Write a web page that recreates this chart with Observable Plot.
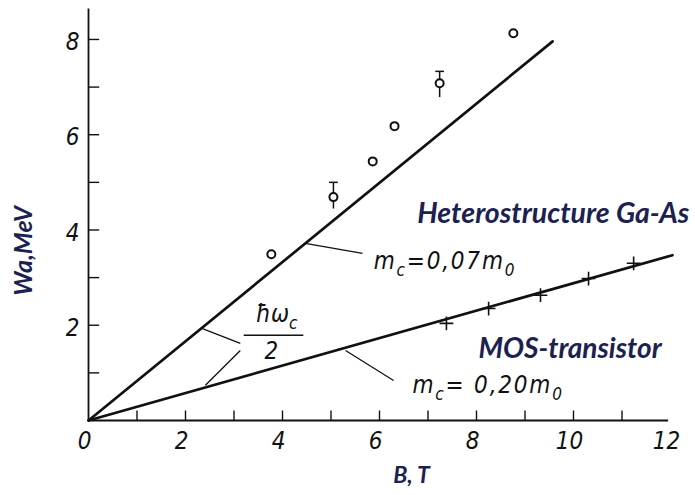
<!DOCTYPE html>
<html><head><meta charset="utf-8">
<script src="https://cdn.jsdelivr.net/npm/d3@7"></script>
<script src="https://cdn.jsdelivr.net/npm/@observablehq/plot@0.6"></script>
<style>
body{margin:0;background:#fff;}
#chart svg{background:#fff;}
.hand{font-stretch:condensed;}
.math{font-stretch:condensed;letter-spacing:1.8px;}
</style>
</head><body><div id="chart"></div>
<script>
// ---- data ----
const xMinorTicks = [1,2,3,4,5,6,7,8,9,10,11];
const xTickLabels = [0,2,4,6,8,10,12];
const yMinorTicks = [1,2,3,4,5,6,7,8];
const yTickLabels = [2,4,6,8];

// fitted lines  ħω_c/2  (B in T, W in meV)
const heteroFitB = [0, 9.57];
const heteroFitW = [0, 7.96];
const mosFitB = [0, 12.04];
const mosFitW = [0, 3.47];

// measured points, heterostructure Ga-As (circles)
const heteroB = [3.77, 5.05, 5.86, 6.31, 7.24, 8.76];
const heteroW = [3.49, 4.69, 5.44, 6.18, 7.08, 8.13];
// error bars
const errB  = [5.05, 7.24];
const errLo = [4.45, 6.79];
const errHi = [5.00, 7.33];

// measured points, MOS-transistor (+)
const mosB = [7.38, 8.25, 9.32, 10.31, 11.24];
const mosW = [2.04, 2.35, 2.63, 2.98, 3.30];

// annotation leaders (data units)
const leaderX1 = [4.47, 5.30, 2.35, 3.13];
const leaderY1 = [3.72, 1.47, 1.93, 1.47];
const leaderX2 = [5.65, 6.29, 3.13, 2.41];
const leaderY2 = [3.51, 0.84, 1.62, 0.74];
const fracBarB = [3.20, 4.43];
const fracBarW = 1.79;

const labelColor = "#1b2150";
const ink = "#111";
const handFont = "'DejaVu Sans Condensed', 'DejaVu Sans', sans-serif";
const titleFont = "Lato, 'Open Sans', sans-serif";

const toPts = (xs, ys) => xs.map((x, i) => ({x, y: ys[i]}));
const heteroFit = toPts(heteroFitB, heteroFitW);
const mosFit = toPts(mosFitB, mosFitW);
const heteroPts = toPts(heteroB, heteroW);
const mosPts = toPts(mosB, mosW);
const errs = errB.map((b, i) => ({x: b, lo: errLo[i], hi: errHi[i]}));
const leaders = leaderX1.map((x1, i) => ({x1, y1: leaderY1[i], x2: leaderX2[i], y2: leaderY2[i]}));

const chart = Plot.plot({
  width: 695, height: 495,
  marginLeft: 88, marginRight: 25, marginTop: 8, marginBottom: 75,
  x: {type: "linear", domain: [0, 12], axis: null},
  y: {type: "linear", domain: [0, 8.65], axis: null},
  style: {background: "#fff", overflow: "visible"},
  marks: [
    // axes
    Plot.link([0], {x1: () => 0, x2: () => 11.95, y1: () => 0, y2: () => 0, stroke: ink, strokeWidth: 1.8}),
    Plot.link([0], {x1: () => 0, x2: () => 0, y1: () => 0, y2: () => 8.65, stroke: ink, strokeWidth: 1.8}),
    Plot.link(xMinorTicks, {x1: d => d, x2: d => d, y1: () => 0, y2: () => 0.21, stroke: ink, strokeWidth: 1.4}),
    Plot.link(yMinorTicks, {y1: d => d, y2: d => d, x1: () => 0, x2: () => 0.22, stroke: ink, strokeWidth: 1.4}),
    Plot.text(xTickLabels, {x: d => d, y: 0, text: d => String(d), dy: 21, dx: -4,
      fontFamily: handFont, fontStyle: "italic", fontSize: 24, fill: ink, className: "hand"}),
    Plot.text(yTickLabels, {x: 0, y: d => d, text: d => String(d), dx: -9, dy: 3, textAnchor: "end",
      fontFamily: handFont, fontStyle: "italic", fontSize: 24, fill: ink, className: "hand"}),
    // axis titles
    Plot.text(["B, T"], {x: 6.66, y: 0, dy: 55, text: d => d, fontFamily: titleFont,
      fontWeight: "bold", fontStyle: "italic", fontSize: 23, fill: labelColor}),
    Plot.text(["Wa,MeV"], {x: -1.32, y: 3.56, rotate: -90, text: d => d, fontFamily: titleFont,
      fontWeight: "bold", fontStyle: "italic", fontSize: 25, fill: labelColor}),
    // fitted lines
    Plot.line(heteroFit, {x: "x", y: "y", stroke: ink, strokeWidth: 2.7}),
    Plot.line(mosFit, {x: "x", y: "y", stroke: ink, strokeWidth: 2.7}),
    // leaders and fraction
    Plot.link(leaders, {x1: "x1", y1: "y1", x2: "x2", y2: "y2", stroke: ink, strokeWidth: 1.3}),
    Plot.link([0], {x1: () => fracBarB[0], x2: () => fracBarB[1], y1: () => fracBarW, y2: () => fracBarW, stroke: ink, strokeWidth: 1.3}),
    Plot.text(["ħω_c"], {x: 3.88, y: 2.06, text: d => d, lineAnchor: "bottom",
      fontFamily: handFont, fontStyle: "italic", fontSize: 24, fill: ink, className: "hand"}),
    Plot.text(["2"], {x: 3.77, y: 1.45, text: d => d,
      fontFamily: handFont, fontStyle: "italic", fontSize: 24, fill: ink, className: "hand"}),
    // error bars
    Plot.link(errs, {x1: "x", x2: "x", y1: "lo", y2: "hi", stroke: ink, strokeWidth: 1.5}),
    Plot.link(errs, {x1: d => d.x - 0.09, x2: d => d.x + 0.09, y1: "hi", y2: "hi", stroke: ink, strokeWidth: 1.5}),
    // data points
    Plot.dot(heteroPts, {x: "x", y: "y", r: 4, stroke: ink, strokeWidth: 2, fill: "#fff"}),
    Plot.dot(mosPts, {x: "x", y: "y", symbol: "plus", r: 4.5, stroke: ink, strokeWidth: 1.6}),
    // labels
    Plot.text(["m_c=0,07m_0"], {x: 5.88, y: 3.19, text: d => d, textAnchor: "start", lineAnchor: "bottom",
      fontFamily: handFont, fontStyle: "italic", fontSize: 24, fill: ink, className: "math"}),
    Plot.text(["m_c= 0,20m_0"], {x: 6.68, y: 0.57, text: d => d, textAnchor: "start", lineAnchor: "bottom",
      fontFamily: handFont, fontStyle: "italic", fontSize: 24, fill: ink, className: "math"}),
    Plot.text(["Heterostructure Ga-As"], {x: 6.78, y: 4.14, text: d => d, textAnchor: "start", lineAnchor: "bottom",
      fontFamily: titleFont, fontWeight: "bold", fontStyle: "italic", fontSize: 28.5, fill: labelColor}),
    Plot.text(["MOS-transistor"], {x: 8.04, y: 1.32, text: d => d, textAnchor: "start", lineAnchor: "bottom",
      fontFamily: titleFont, fontWeight: "bold", fontStyle: "italic", fontSize: 28, fill: labelColor})
  ]
});

// subscripts: "_x" -> lowered small tspan
d3.select(chart).selectAll("text").each(function () {
  const t = this.textContent;
  if (!t.includes("_")) return;
  const el = d3.select(this);
  el.selectAll("*").remove();
  el.text(null);
  t.split(/_(.)/).forEach((p, i) => {
    if (!p) return;
    const ts = el.append("tspan").text(p);
    if (i % 2 === 1) ts.attr("baseline-shift", "-7").attr("font-size", "17");
  });
});
document.getElementById("chart").appendChild(chart);
</script>
</body></html>
